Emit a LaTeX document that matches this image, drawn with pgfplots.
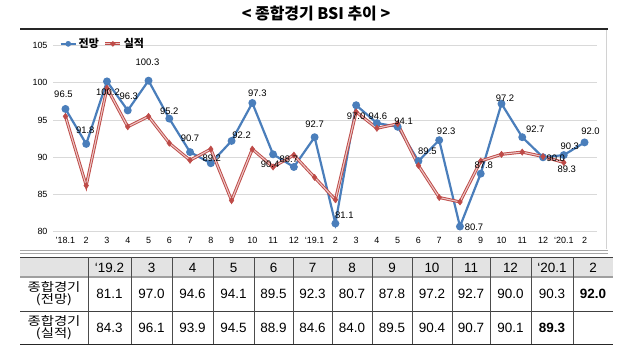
\documentclass[border=0pt]{standalone}
\usepackage{pgfplots}
\pgfplotsset{compat=1.18}
\usepackage{pgfplotstable}
\usetikzlibrary{shapes.geometric}
\usepackage{fontspec}
\setmainfont{Liberation Sans}
\newfontfamily\kr{Noto Sans CJK KR}
\definecolor{bl}{HTML}{4A7EBB}
\definecolor{rd}{HTML}{BE4B48}
\definecolor{pk}{HTML}{ECC6C5}
\definecolor{gridc}{HTML}{D9D9D9}
\definecolor{hdr}{HTML}{E3E3E3}

\pgfplotstableread{
x y lab dx dy
0 96.5 96.5 -2 15
1 91.8 91.8 -1 14
2 100.2 100.2 1 -11
3 96.3 96.3 1 14
4 100.3 100.3 -1 18
5 95.2 95.2 0 7
6 90.7 90.7 0 14
7 89.2 89.2 1 5
8 92.2 92.2 10 6
9 97.3 97.3 5 10
10 90.4 90.4 -3 -10
11 88.7 88.7 -5 8
12 92.7 92.7 0 13
13 81.1 81.1 9 8
14 97.0 97.0 0 -11
15 94.6 94.6 1 7
16 94.1 94.1 6 6
17 89.5 89.5 9 9.5
18 92.3 92.3 7 8.6
19 80.7 80.7 14 -1
20 87.8 87.8 3 8
21 97.2 97.2 3.5 5.3
22 92.7 92.7 13 8
23 90.0 90.0 12.7 -1
24 90.3 90.3 6 9
25 92.0 92.0 6 11
}\bluedata

\pgfplotstableread{
x y
0 95.5
1 86.2
2 99.3
3 94.1
4 95.5
5 91.9
6 89.6
7 91.1
8 84.2
9 91.1
10 88.7
11 90.3
12 87.3
13 84.3
14 96.1
15 93.9
16 94.5
17 88.9
18 84.6
19 84.0
20 89.5
21 90.4
22 90.7
23 90.1
24 89.3
}\reddata

\begin{document}
\begin{tikzpicture}
\useasboundingbox (0,0) rectangle (640bp,356bp);
\begin{scope}[x=1bp,y=-1bp,yshift=356bp]
  % title
  \node[font=\kr\bfseries\fontsize{16}{16}\selectfont] at (316,14) {< 종합경기 BSI 추이 >};
  \draw[black!85, line width=1.5bp] (20,29) -- (608,29);
  \draw[gray!35, line width=0.8bp] (606,30) -- (606,249);
  % double line above table
  \draw[gray!70, line width=0.6bp] (20,250.5) -- (608,250.5);
  \draw[gray!70, line width=0.6bp] (20,253) -- (608,253);
  % table
  \fill[hdr] (20,257) rectangle (613,277);
  \draw[black!75, line width=0.7bp] (20,257) -- (613,257);
  \draw[gray!75, line width=2bp] (20,277) -- (613,277);
  \draw[black!75, line width=0.7bp] (20,311) -- (613,311);
  \draw[black!85, line width=0.9bp] (20,344) -- (613,344);
  \foreach \xx in {88,131,172,213,254,293,332,372,412,452,490,531,573}
    \draw[black!70, line width=0.6bp] (\xx,257) -- (\xx,344);
  \begin{scope}[every node/.style={font=\fontsize{13.5}{14}\selectfont}]
    \foreach \c/\t in {109.5/‘19.2,151.5/3,192.5/4,233.5/5,273.5/6,312.5/7,352/8,392/9,432/10,471/11,510.5/12,552/‘20.1,593/2}
      \node at (\c,267.5) {\t};
    \foreach \c/\t in {109.5/81.1,151.5/97.0,192.5/94.6,233.5/94.1,273.5/89.5,312.5/92.3,352/80.7,392/87.8,432/97.2,471/92.7,510.5/90.0,552/90.3}
      \node at (\c,293.5) {\t};
    \node[font=\bfseries\fontsize{13.5}{14}\selectfont] at (593,293.5) {92.0};
    \foreach \c/\t in {109.5/84.3,151.5/96.1,192.5/93.9,233.5/94.5,273.5/88.9,312.5/84.6,352/84.0,392/89.5,432/90.4,471/90.7,510.5/90.1}
      \node at (\c,327.5) {\t};
    \node[font=\bfseries\fontsize{13.5}{14}\selectfont] at (552,327.5) {89.3};
  \end{scope}
  \node[align=center, font=\kr\fontsize{12}{12}\selectfont, xscale=1.2, transform shape] at (54,293.5) {종합경기\\(전망)};
  \node[align=center, font=\kr\fontsize{12}{12}\selectfont, xscale=1.2, transform shape] at (54,327.5) {종합경기\\(실적)};
\end{scope}

\begin{axis}[
  at={(53bp,124.3bp)}, anchor=south west,
  scale only axis, width=544bp, height=186bp,
  xmin=-0.6, xmax=25.6, ymin=80, ymax=105,
  ytick={80,85,...,105},
  xtick={0,...,25},
  xticklabels={'18.1,2,3,4,5,6,7,8,9,10,11,12,`19.1,2,3,4,5,6,7,8,9,10,11,12,`20.1,2},
  ymajorgrids, grid style={gridc, line width=0.8bp},
  axis line style={draw=none},
  major tick length=0pt,
  tick label style={font=\fontsize{9}{10}\selectfont},
  xticklabel style={yshift=-2bp},
  yticklabel style={xshift=-2bp},
  /pgf/number format/assume math mode=true,
  clip=false,
  legend columns=2,
  legend style={at={(rel axis cs:0.012,1.01)}, anchor=west, draw=none, fill=none,
    inner sep=0pt, font=\kr\bfseries\fontsize{11}{12}\selectfont,
    /tikz/every even column/.append style={column sep=3bp}},
]
% legend images
\addlegendimage{legend image code/.code={
  \draw[bl, line width=2bp] (0bp,0bp) -- (15bp,0bp);
  \fill[bl] (7.5bp,0bp) circle (2.6bp);
}}
\addlegendentry{전망}
\addlegendimage{legend image code/.code={
  \draw[rd, line width=3bp] (0bp,0bp) -- (15bp,0bp);
  \draw[pk, line width=1.1bp] (0bp,0bp) -- (15bp,0bp);
  \node[diamond, fill=rd, inner sep=0pt, minimum size=6bp] at (7.5bp,0bp) {};
}}
\addlegendentry{실적}

% blue series
\addplot[bl, line width=2.2bp, mark=*, mark size=2.8bp, mark options={fill=bl, draw=bl}, forget plot]
  table[x=x, y=y] {\bluedata};
% red series (double line)
\addplot[rd, line width=3bp, forget plot] table[x=x, y=y] {\reddata};
\addplot[pk, line width=1.1bp, forget plot] table[x=x, y=y] {\reddata};
\addplot[only marks, mark=diamond*, mark size=3.2bp, mark options={fill=rd, draw=rd}, forget plot]
  table[x=x, y=y] {\reddata};

% data labels
\addplot[draw=none, forget plot, point meta=explicit symbolic,
  visualization depends on={\thisrow{dx} \as \dx},
  visualization depends on={\thisrow{dy} \as \dy},
  nodes near coords,
  every node near coord/.append style={anchor=center, inner sep=0pt, black,
    font=\fontsize{9.5}{10}\selectfont, xshift=\dx bp, yshift=\dy bp}]
  table[x=x, y=y, meta=lab] {\bluedata};
\addplot[draw=none, forget plot, nodes near coords={89.3},
  every node near coord/.append style={anchor=center, inner sep=0pt, black,
    font=\fontsize{9.5}{10}\selectfont, xshift=3bp, yshift=-7bp}]
  coordinates {(24,89.3)};
\end{axis}
\end{tikzpicture}
\end{document}
